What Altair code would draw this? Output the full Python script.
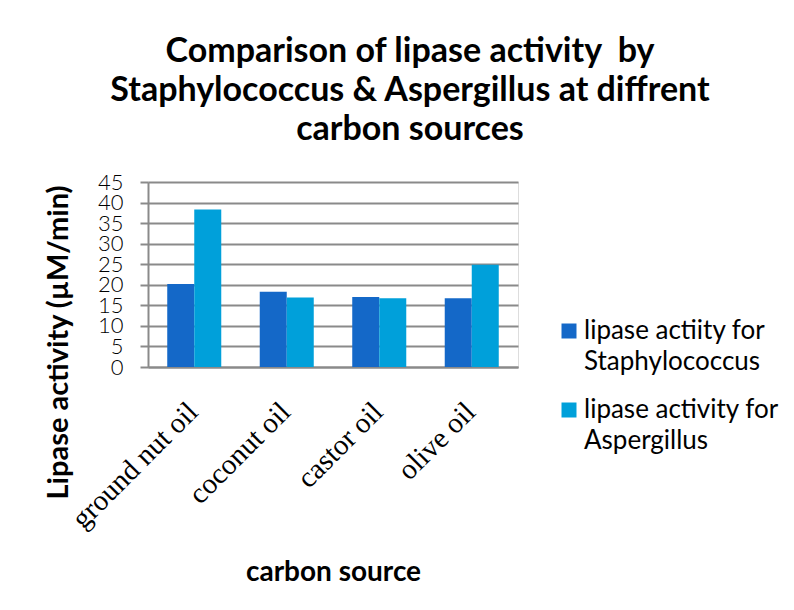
import altair as alt
import pandas as pd

categories = ["ground nut oil", "coconut oil", "castor oil", "olive oil"]
series = ["lipase actiity for Staphylococcus", "lipase activity for Aspergillus"]
staph_values = [20.2, 18.3, 17.0, 16.7]
asper_values = [38.3, 16.9, 16.7, 24.9]
y_ticks = [0, 5, 10, 15, 20, 25, 30, 35, 40, 45]
colors = ["#1468C8", "#00A0DA"]

rows = []
for c, a, b in zip(categories, staph_values, asper_values):
    rows.append({"source": c, "series": series[0], "value": a})
    rows.append({"source": c, "series": series[1], "value": b})
df = pd.DataFrame(rows)

grid_col = "#8a8a8a"

chart = alt.Chart(df).mark_bar().encode(
    x=alt.X(
        "source:N",
        sort=categories,
        scale=alt.Scale(paddingInner=0.416, paddingOuter=0.208),
        axis=alt.Axis(
            title="carbon source",
            titleFont="Lato",
            titleFontSize=28,
            titleFontWeight="bold",
            titleColor="#000000",
            titleX=185,
            titleY=205,
            titleBaseline="middle",
            labelAngle=-45,
            labelAlign="right",
            labelBaseline="top",
            labelFont="Liberation Serif",
            labelFontSize=29,
            labelColor="#000000",
            labelPadding=30,
            labelOffset=-11,
            labelOverlap=False,
            ticks=False,
            domainColor=grid_col,
            domainWidth=2,
            grid=False,
        ),
    ),
    xOffset=alt.XOffset("series:N", sort=series, scale=alt.Scale(paddingInner=0, paddingOuter=0)),
    y=alt.Y(
        "value:Q",
        scale=alt.Scale(domain=[0, 45], nice=False),
        axis=alt.Axis(
            title="Lipase activity (µM/min)",
            titleFont="Lato",
            titleFontSize=29,
            titleFontWeight="bold",
            titleColor="#000000",
            titleAngle=-90,
            titleX=-90,
            titleY=160,
            titleAlign="center",
            titleBaseline="middle",
            values=y_ticks,
            labelOverlap=False,
            labelFont="Lato",
            labelFontSize=22,
            labelFontWeight=300,
            labelColor="#000000",
            labelPadding=17,
            tickSize=8,
            tickColor=grid_col,
            tickWidth=2,
            domainColor=grid_col,
            domainWidth=2,
            gridColor=grid_col,
            gridWidth=2,
        ),
    ),
    color=alt.Color(
        "series:N",
        sort=series,
        scale=alt.Scale(domain=series, range=colors),
        legend=alt.Legend(
            orient="none",
            legendX=408,
            legendY=136,
            title=None,
            symbolType="square",
            symbolSize=225,
            symbolStrokeWidth=0,
            labelFont="Lato",
            labelFontSize=26,
            labelColor="#000000",
            labelLimit=400,
            labelOffset=2,
            rowPadding=22,
            labelExpr="split(replace(datum.label, ' for ', ' for|'), '|')",
        ),
    ),
).properties(
    width=370,
    height=185,
    title=alt.TitleParams(
        text=["Comparison of lipase activity\u00a0 by", "Staphylococcus & Aspergillus at diffrent", "carbon sources"],
        font="Lato",
        fontSize=34,
        fontWeight="bold",
        color="#000000",
        anchor="middle",
        frame="group",
        dx=77,
        lineHeight=39,
        offset=24,
    ),
    autosize=alt.AutoSizeParams(type="none"),
    padding={"left": 140, "top": 174, "right": 268, "bottom": 232},
).configure_view(strokeWidth=0).configure(style={"guide-label": {"lineHeight": 31}})

chart.save("out.html", embed_options={"renderer": "svg", "actions": False})
